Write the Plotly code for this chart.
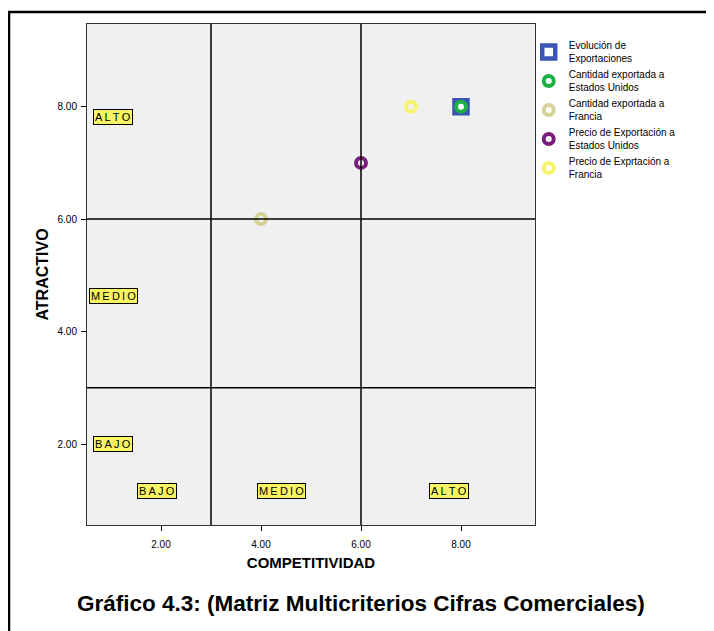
import plotly.graph_objects as go

# series: (competitividad, atractivo)
series_names = [
    "Evolución de<br>Exportaciones",
    "Cantidad exportada a<br>Estados Unidos",
    "Cantidad exportada a<br>Francia",
    "Precio de Exportación a<br>Estados Unidos",
    "Precio de Exprtación a<br>Francia",
]
competitividad = [8, 8, 4, 6, 7]
atractivo = [8, 8, 6, 7, 8]
colors = ["#3B55B5", "#1FB045", "#D6D196", "#7A1E7C", "#F8F46A"]

# quadrant labels
y_labels = ["ALTO", "MEDIO", "BAJO"]
y_label_pos = [7.82, 4.64, 2.0]
x_labels = ["BAJO", "MEDIO", "ALTO"]
x_label_pos = [1.92, 4.4, 7.76]

fig = go.Figure()

for i, name in enumerate(series_names):
    if i == 0:
        marker = dict(symbol="square", size=13, color="white",
                      line=dict(color=colors[i], width=4.5))
    else:
        marker = dict(symbol="circle-open", size=10,
                      line=dict(color=colors[i], width=4), color=colors[i])
    fig.add_trace(go.Scatter(
        x=[competitividad[i]], y=[atractivo[i]],
        mode="markers", name=name, marker=marker,
    ))

shapes = [
    dict(type="line", xref="x", yref="paper", x0=3, x1=3, y0=0, y1=1,
         line=dict(color="black", width=1.5)),
    dict(type="line", xref="x", yref="paper", x0=6, x1=6, y0=0, y1=1,
         line=dict(color="black", width=1.5)),
    dict(type="line", xref="paper", yref="y", x0=0, x1=1, y0=6, y1=6,
         line=dict(color="black", width=1.5)),
    dict(type="line", xref="paper", yref="y", x0=0, x1=1, y0=3, y1=3,
         line=dict(color="black", width=1.5)),
    # outer frame of the figure
    dict(type="rect", xref="paper", yref="paper", x0=-0.174, x1=1.5, y0=-0.5, y1=1.024,
         line=dict(color="black", width=2.5), layer="below"),
]

box = dict(bgcolor="#F8F462", bordercolor="black", borderwidth=1, borderpad=1,
           showarrow=False, font=dict(family="Arial, Liberation Sans", size=11, color="black"))
annotations = []
for lab, yp in zip(y_labels, y_label_pos):
    annotations.append(dict(x=1.04, y=yp, xref="x", yref="y", text="\u2009".join(lab), **box))
for lab, xp in zip(x_labels, x_label_pos):
    annotations.append(dict(x=xp, y=1.17, xref="x", yref="y", text="\u2009".join(lab), **box))
annotations.append(dict(
    x=0.612, y=-0.16, yshift=-13, xref="paper", yref="paper", showarrow=False,
    text="<b>Gráfico 4.3: (Matriz Multicriterios Cifras Comerciales)</b>",
    font=dict(family="Arial, Liberation Sans", size=22.5, color="black"),
))

axis_common = dict(
    showgrid=False, zeroline=False, showline=True, linecolor="#333333", linewidth=1,
    mirror=True, ticks="outside", ticklen=5, tickcolor="black", tickformat=".2f",
    tickfont=dict(family="Arial, Liberation Sans", size=10, color="black"),
)

fig.update_layout(
    width=706, height=623,
    margin=dict(l=79, r=179, t=16, b=106),
    paper_bgcolor="white", plot_bgcolor="#F0F0F0",
    font=dict(family="Arial, Liberation Sans", color="black"),
    xaxis=dict(range=[0.52, 9.48], tickvals=[2, 4, 6, 8], ticklabelstandoff=5,
               title=dict(text="<b>COMPETITIVIDAD</b>", font=dict(size=15), standoff=8),
               **axis_common),
    yaxis=dict(range=[0.56, 9.47], tickvals=[2, 4, 6, 8], ticklabelstandoff=2,
               title=dict(text="<b>ATRACTIVO</b>", font=dict(size=16), standoff=4),
               **axis_common),
    legend=dict(x=0.986, y=0.983, xanchor="left", yanchor="top",
                font=dict(family="Arial, Liberation Sans", size=10),
                bgcolor="rgba(0,0,0,0)", tracegroupgap=2, itemwidth=30),
    shapes=shapes, annotations=annotations,
    showlegend=True,
)

fig.write_html("out.html")
